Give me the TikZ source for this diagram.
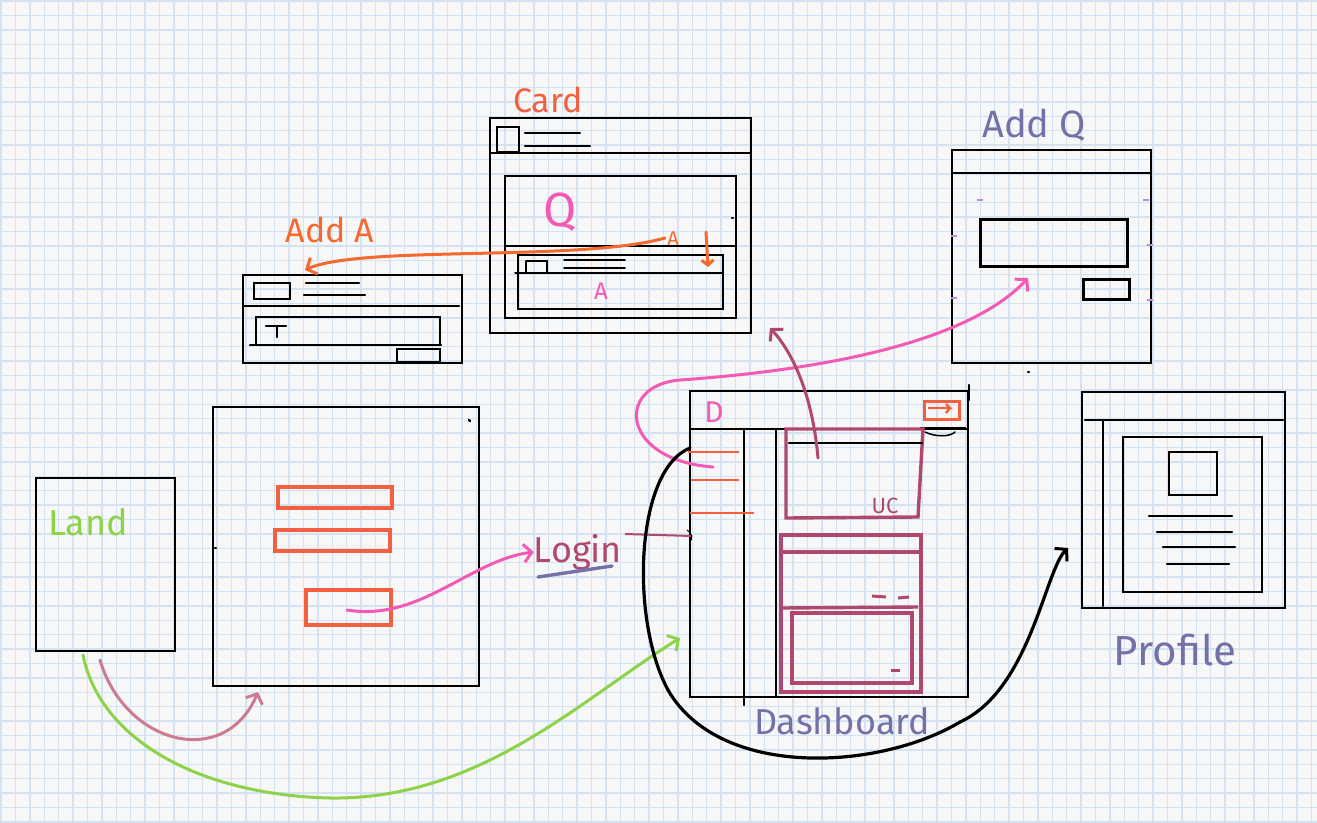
\documentclass[tikz,border=0pt]{standalone}
\usepackage{fontspec}
\setmainfont{Fira Sans}
\usetikzlibrary{arrows.meta}
\definecolor{paper}{HTML}{F7F7F8}
\definecolor{gridc}{HTML}{D3E3F1}
\definecolor{ored}{HTML}{F2603F}
\definecolor{orng}{HTML}{F5692E}
\definecolor{pinkc}{HTML}{F25AB4}
\definecolor{maroon}{HTML}{B0486E}
\definecolor{purp}{HTML}{7470A8}
\definecolor{greenc}{HTML}{8ED24A}
\definecolor{mauve}{HTML}{CC7B92}
\definecolor{tickc}{HTML}{B98CE0}
\begin{document}
\begin{tikzpicture}[x=1pt,y=-1pt,
  frame/.style={draw=black,line width=2.2pt,inner sep=0,outer sep=0,anchor=north west},
  ink/.style={line width=2.2pt,line cap=round},
  thinink/.style={line width=1.5pt,line cap=round},
  redbox/.style={draw=ored,line width=3.2pt},
  mbox/.style={draw=maroon,line width=3.4pt},
  conn/.style={line width=3pt,line cap=round,-{Straight Barb[length=8pt,width=18pt,line width=3pt]}},
  lbl/.style={inner sep=0}]
\fill[paper] (0,0) rectangle (1317,822);
\useasboundingbox (0,0) rectangle (1317,822);
\foreach \i in {0,...,91} \draw[gridc,line width=1.4pt] ({1+14.4*\i},0) -- ++(0,822);
\foreach \j in {0,...,57} \draw[gridc,line width=1.4pt] (0,{1+14.4*\j}) -- ++(1317,0);

% ---------- Land ----------
\node[frame,minimum width=139pt,minimum height=173pt] (land) at (36,478) {};
\node[lbl,text=greenc,font=\fontsize{36}{36}\selectfont] (landt) at (88,522) {Land};

% ---------- Login screen ----------
\node[frame,minimum width=266pt,minimum height=279pt] (login) at (213,407) {};
\draw[redbox] (278,487) rectangle (392,508);
\draw[redbox] (275,530) rectangle (390,551);
\draw[redbox] (306,590) rectangle (391,625);
\draw[ink] (469,420) -- (470,421);
\draw[ink] (215,548) -- (216,548);

% ---------- Login label ----------
\node[lbl,text=maroon,font=\fontsize{36}{36}\selectfont] (logint) at (578,552) {Login};
\draw[purp,line width=3.4pt,line cap=round] (538,577) -- (612,566);

% ---------- Card ----------
\node[lbl,text=ored,font=\fontsize{34}{34}\selectfont] (cardt) at (548,100) {Card};
\node[frame,minimum width=261pt,minimum height=215pt] (card) at (490,118) {};
\draw[ink] (490,153) -- (751,153);
\draw[thinink] (497,127) rectangle (519,152);
\draw[ink] (525,133) -- (580,133);
\draw[ink] (525,146) -- (590,146);
\draw[ink] (505,176) rectangle (736,318);
\draw[ink] (505,246) -- (736,246);
\draw[ink] (518,255) rectangle (723,309);
\draw[thinink] (515,273) -- (723,273);
\draw[thinink] (526,261) -- (547,261) -- (547,273);
\draw[thinink] (526,261) -- (526,273);
\draw[thinink] (564,260) -- (625,260);
\draw[thinink] (564,268) -- (625,268);
\draw[ink] (732,218) -- (733,218);
\node[lbl,text=pinkc,font=\fontsize{48}{48}\selectfont] (qt) at (560,212) {Q};
\node[lbl,text=pinkc,font=\fontsize{24}{24}\selectfont] (at) at (601,291) {A};
\node[lbl,text=orng,font=\fontsize{20}{20}\selectfont] (aot) at (673,239) {A};

% ---------- Add A ----------
\node[lbl,text=orng,font=\fontsize{34}{34}\selectfont] (addat) at (330,230) {Add A};
\node[frame,minimum width=219pt,minimum height=88pt] (adda) at (243,275) {};
\draw[ink] (243,306) -- (459,306);
\draw[ink] (254,283) rectangle (290,299);
\draw[ink] (306,283) -- (359,283);
\draw[ink] (304,295) -- (365,295);
\draw[ink] (256,317) rectangle (440,345);
\draw[ink] (250,345) -- (441,345);
\draw[ink] (266,326) -- (286,326);
\draw[ink] (277,326) -- (277,337);
\draw[ink] (397,349) rectangle (440,362);

% ---------- Add Q ----------
\node[lbl,text=purp,font=\fontsize{38}{38}\selectfont] (addqt) at (1034,125) {Add Q};
\node[frame,minimum width=199pt,minimum height=213pt] (addq) at (952,150) {};
\draw[ink] (952,173) -- (1151,173);
\draw[line width=3pt] (980,219) rectangle (1127,266);
\draw[line width=3pt] (1083,279) rectangle (1129,299);
\foreach \p in {(980,200),(1146,200),(954,236),(1150,245),(954,298),(1150,300)}
  \draw[tickc,line width=1.2pt] \p ++(-3,0) -- ++(6,0);
\draw[ink] (1028,372) -- (1029,372);

% ---------- Dashboard ----------
\node[frame,minimum width=278pt,minimum height=306pt] (dash) at (690,391) {};
\draw[ink] (690,429) -- (968,429);
\draw[line width=3pt] (920,428) -- (966,428);
\draw[thinink] (925,432) .. controls (935,437) and (950,437) .. (955,432);
\draw[ink] (744,429) -- (744,705);
\draw[ink] (776,430) -- (776,697);
\draw[ink] (969,385) -- (969,400);
\draw[draw=ored,line width=3pt] (924,401) rectangle (959,419);
\draw[ored,line width=2.4pt] (928,408) -- (950,408) -- (946,404);
\draw[ored,line width=2.4pt] (950,408) -- (946,413);
\node[lbl,text=pinkc,font=\fontsize{30}{30}\selectfont] (dt) at (714,412) {D};
\draw[ored,line width=2.4pt] (688,452) -- (739,452);
\draw[ored,line width=2.4pt] (691,480) -- (739,480);
\draw[ored,line width=2.4pt] (690,513) -- (754,513);
% UC card
\draw[mbox] (786,429) -- (923,429) -- (918,517) -- (786,518) -- cycle;
\draw[ink] (789,443) -- (922,443);
\node[lbl,text=maroon,font=\fontsize{22}{22}\selectfont] (uct) at (885,506) {UC};
% lower card
\draw[mbox] (781,535) rectangle (921,692);
\draw[mbox] (781,552) -- (921,552);
\draw[mbox] (782,608) -- (918,607);
\draw[mbox] (792,613) rectangle (912,683);
\draw[maroon,line width=3pt] (872,596) -- (886,597);
\draw[maroon,line width=3pt] (898,598) -- (909,597);
\draw[maroon,line width=3pt] (891,670) -- (900,670);
\node[lbl,text=purp,font=\fontsize{36}{36}\selectfont] (dasht) at (842,721) {Dashboard};

% ---------- Profile ----------
\node[frame,minimum width=203pt,minimum height=216pt] (prof) at (1082,392) {};
\draw[ink] (1085,420) -- (1283,420);
\draw[ink] (1103,420) -- (1103,606);
\draw[ink] (1123,437) rectangle (1262,592);
\draw[ink] (1169,452) rectangle (1217,495);
\draw[ink] (1149,516) -- (1232,516);
\draw[ink] (1157,532) -- (1232,532);
\draw[ink] (1163,547) -- (1235,547);
\draw[ink] (1167,564) -- (1229,564);
\node[lbl,text=purp,font=\fontsize{42}{42}\selectfont] (proft) at (1175,650) {Profile};

% ---------- connectors ----------
\coordinate (m0) at (100,660);
\coordinate (m1) at (258,692);
\draw[conn,mauve] (m0) .. controls (125,745) and (225,770) .. (m1);

\coordinate (g0) at (83,655);
\coordinate (g1) at (330,798);
\coordinate (g2) at (680,638);
\draw[greenc,line width=3pt,line cap=round] (g0) .. controls (100,740) and (200,795) .. (g1);
\draw[conn,greenc] (g1) .. controls (480,800) and (580,700) .. (g2);

\coordinate (p0) at (347,610);
\draw[conn,pinkc] (p0) .. controls (420,622) and (470,560) .. (logint.west);

\coordinate (l0) at (625,534);
\coordinate (l1) at (692,536);
\draw[maroon,line width=2pt] (l0) -- (l1);
\draw[black,line width=1pt] (687,530) .. controls (692,533) and (693,538) .. (690,542);

\coordinate (k0) at (713,467);
\coordinate (k1) at (680,380);
\coordinate (k2) at (1028,278);
\draw[pinkc,line width=3pt,line cap=round] (k0) .. controls (620,460) and (615,385) .. (k1);
\draw[conn,pinkc] (k1) .. controls (850,368) and (975,335) .. (k2);

\coordinate (u0) at (818,458);
\coordinate (u1) at (770,328);
\draw[conn,maroon] (u0) .. controls (813,400) and (795,355) .. (u1);

\coordinate (b0) at (690,448);
\coordinate (b1) at (668,690);
\coordinate (b2) at (960,722);
\coordinate (b3) at (1068,548);
\draw[black,line width=3.2pt,line cap=round] (b0) .. controls (635,470) and (630,620) .. (b1);
\draw[black,line width=3.2pt,line cap=round] (b1) .. controls (720,780) and (880,770) .. (b2);
\draw[conn,black,line width=3.2pt] (b2) .. controls (1030,690) and (1045,570) .. (b3);

\coordinate (o0) at (665,238);
\coordinate (o1) at (305,270);
\draw[conn,orng] (o0) .. controls (580,262) and (360,245) .. (o1);
\coordinate (o2) at (706,232);
\coordinate (o3) at (708,267);
\draw[orng,line width=3pt,line cap=round,-{Straight Barb[length=5pt,width=12pt,line width=3pt]}] (o2) -- (o3);
\end{tikzpicture}
\end{document}
